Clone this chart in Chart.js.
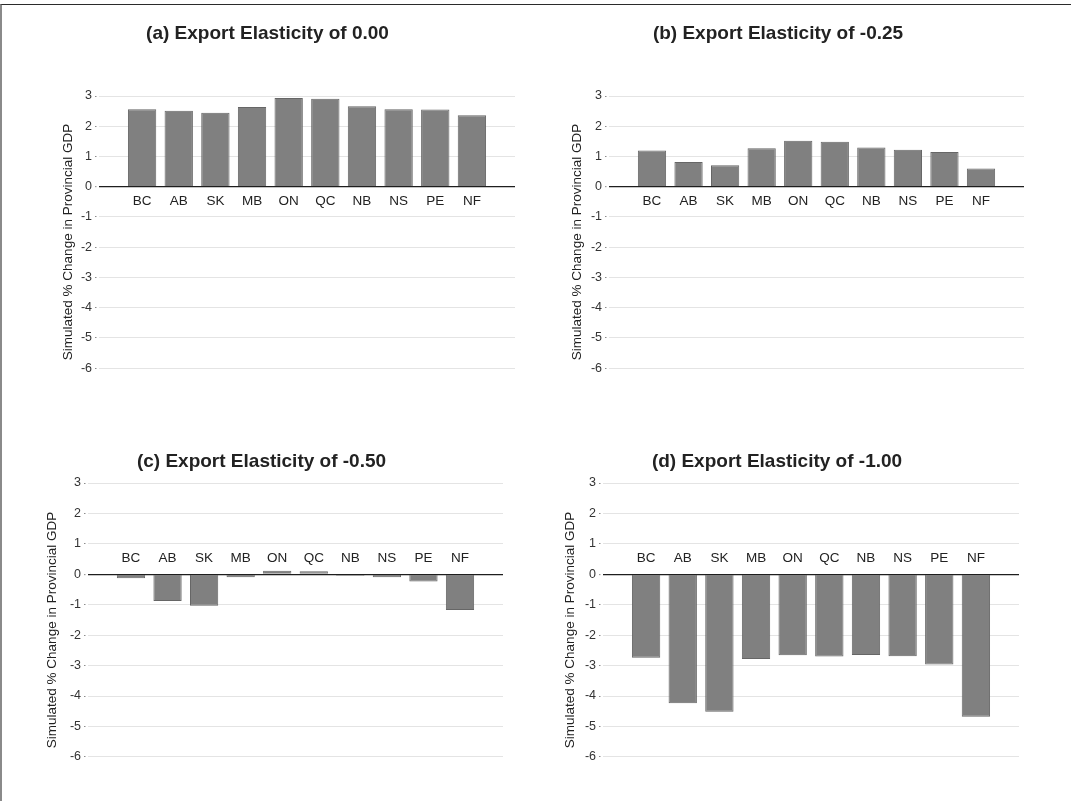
<!DOCTYPE html>
<html>
<head>
<meta charset="utf-8">
<script src="https://cdn.jsdelivr.net/npm/chart.js@4.4.0/dist/chart.umd.min.js"></script>
<style>
  body { margin: 0; background: #fff; width: 1071px; height: 801px; position: relative; overflow: hidden; }
  .frame { position: absolute; left: 0; top: 4px; width: 1071px; height: 797px; box-sizing: border-box;
           border-top: 1.5px solid #2b2b2b; border-left: 2px solid #8a8a8a; }
  canvas { position: absolute; }
</style>
</head>
<body>
<div class="frame"></div>
<canvas id="a" width="526" height="378" style="left:20px;top:10px"></canvas>
<canvas id="b" width="492" height="378" style="left:532px;top:10px"></canvas>
<canvas id="c" width="528" height="339" style="left:20px;top:438px"></canvas>
<canvas id="d" width="484" height="339" style="left:535px;top:438px"></canvas>
<script>
// provinces and simulated % change in provincial GDP, one array per export elasticity
const provinces = ['BC', 'AB', 'SK', 'MB', 'ON', 'QC', 'NB', 'NS', 'PE', 'NF'];
const elast000 = [2.56, 2.51, 2.45, 2.64, 2.93, 2.91, 2.66, 2.56, 2.55, 2.36];
const elast025 = [1.20, 0.82, 0.71, 1.27, 1.52, 1.49, 1.30, 1.22, 1.15, 0.60];
const elast050 = [-0.13, -0.88, -1.03, -0.10, 0.12, 0.10, -0.05, -0.10, -0.24, -1.17];
const elast100 = [-2.74, -4.24, -4.52, -2.78, -2.66, -2.70, -2.65, -2.69, -2.96, -4.68];
const yAxisTitle = 'Simulated % Change in Provincial GDP';

Chart.defaults.font.family = "'Liberation Sans', Arial, sans-serif";
Chart.defaults.animation = false;

function panel(id, title, values, o) {
  new Chart(document.getElementById(id), {
    type: 'bar',
    data: {
      labels: provinces,
      datasets: [{
        data: values,
        backgroundColor: '#808080',
        borderColor: '#666666',
        borderWidth: 1,
        barPercentage: 0.773,
        categoryPercentage: 1
      }]
    },
    options: {
      responsive: false,
      layout: { padding: { left: 0, right: o.padR, top: 0, bottom: 0 } },
      plugins: {
        legend: { display: false },
        tooltip: { enabled: false },
        title: {
          display: true, text: title, color: '#222',
          font: { size: 19, weight: 'bold' },
          padding: { top: o.tTop, bottom: o.tBottom }
        }
      },
      scales: {
        x: {
          type: 'category',
          position: { y: 0 },
          offset: true,
          grid: { display: false, drawTicks: false },
          border: { display: false },
          ticks: { color: '#222', font: { size: 13.5 }, padding: o.labelPad, maxRotation: 0, autoSkip: false },
          // widen the category range so gridlines run past the first/last bar
          afterBuildTicks: (s) => { s._startValue -= 0.676; s._valueRange += 1.352; },
          afterFit: (s) => { s.paddingLeft = 0; s.paddingRight = 0; }
        },
        y: {
          min: -6.66, max: 3,
          ticks: { stepSize: 1, includeBounds: false, color: '#333', font: { size: 12.5 }, padding: 3 },
          grid: {
            color: (c) => (c.tick && c.tick.value === 0 ? '#1e1e1e' : '#e4e4e4'),
            lineWidth: (c) => (c.tick && c.tick.value === 0 ? 1.3 : 1),
            tickLength: 4, tickColor: '#8c8c8c', tickWidth: 1, tickBorderDash: [1.5, 3]
          },
          border: { display: false },
          title: {
            display: true, text: yAxisTitle, color: '#222',
            font: { size: 13.5 }, padding: { top: o.axPad, bottom: 0 }
          },
          afterFit: (s) => { s.width = o.yW; s.paddingTop = 0; s.paddingBottom = 0; }
        }
      }
    }
  });
}

panel('a', '(a) Export Elasticity of 0.00', elast000,
  { padR: 31, yW: 79, axPad: 40, tTop: 12.6, tBottom: 50.6, labelPad: 6 });
panel('b', '(b) Export Elasticity of -0.25', elast025,
  { padR: 0, yW: 77, axPad: 37, tTop: 12.6, tBottom: 50.6, labelPad: 6 });
panel('c', '(c) Export Elasticity of -0.50', elast050,
  { padR: 45, yW: 68, axPad: 24, tTop: 12.6, tBottom: 9.6, labelPad: -24.5 });
panel('d', '(d) Export Elasticity of -1.00', elast100,
  { padR: 0, yW: 68, axPad: 27, tTop: 12.6, tBottom: 9.6, labelPad: -24.5 });
</script>
</body>
</html>
